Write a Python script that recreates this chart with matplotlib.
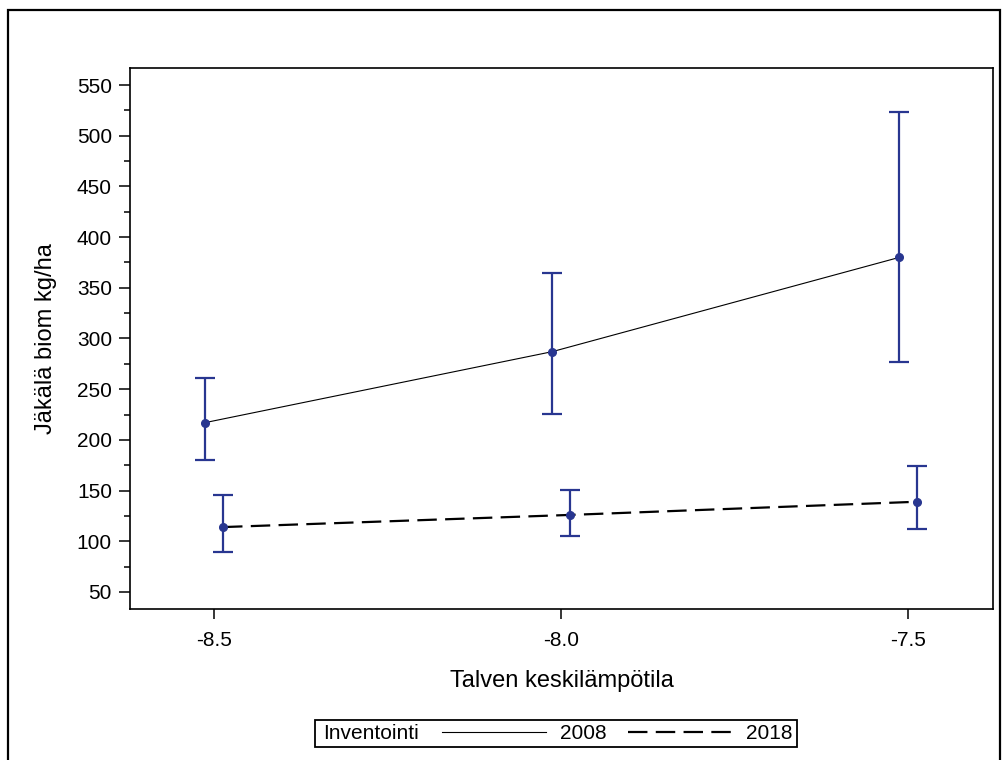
import matplotlib
matplotlib.use("Agg")
import matplotlib.pyplot as plt
from matplotlib.lines import Line2D
from matplotlib.patches import Rectangle
from matplotlib.ticker import MultipleLocator

plt.rcParams['font.family'] = ['Liberation Sans', 'DejaVu Sans']
plt.rcParams['lines.scale_dashes'] = False

# ---- data ----
temps = [-8.5, -8.0, -7.5]
years = ["2008", "2018"]
mean_2008 = [217, 287, 380]
upper_2008 = [261, 365, 523]
lower_2008 = [180, 226, 277]
mean_2018 = [114, 126, 139]
upper_2018 = [146, 151, 174]
lower_2018 = [89, 105, 112]
xticks = [-8.5, -8.0, -7.5]
xticklabels = ["-8.5", "-8.0", "-7.5"]
yticks = list(range(50, 551, 50))
legend_title = "Inventointi"

dodge = 0.013
ebar_color = '#283690'

W, H = 1004, 760
fig = plt.figure(figsize=(W/100, H/100), dpi=100)
ax = fig.add_axes([130/W, 1-609/H, (993-130)/W, (609-68)/H])

series = [
    (mean_2008, upper_2008, lower_2008, -dodge, dict(color='black', lw=0.8, linestyle='-')),
    (mean_2018, upper_2018, lower_2018, +dodge, dict(color='black', lw=1.6, dashes=(14, 6))),
]
handles = []
for (m, up, lo, off, style), yr in zip(series, years):
    xs = [t + off for t in temps]
    ax.plot(xs, m, zorder=2, **style)
    yerr = [[mm - l for mm, l in zip(m, lo)], [u - mm for mm, u in zip(m, up)]]
    ax.errorbar(xs, m, yerr=yerr, fmt='o', color=ebar_color, ms=5.5,
                elinewidth=1.6, capsize=7.5, capthick=1.6, zorder=3)
    handles.append(Line2D([], [], label=yr, **style))

ax.set_xlim(-8.621, -7.378)
ax.set_ylim(33.2, 566.8)
ax.set_xticks(xticks)
ax.set_xticklabels(xticklabels)
ax.set_yticks(yticks)
ax.yaxis.set_minor_locator(MultipleLocator(25))
ax.tick_params(axis='both', which='major', labelsize=15, width=1.1, length=8, pad=5, direction='out')
ax.tick_params(axis='x', which='major', length=7, pad=9)
ax.tick_params(axis='y', which='minor', width=1.1, length=4.3)
for sp in ax.spines.values():
    sp.set_linewidth(1.2)

ax.set_xlabel("Talven keskilämpötila", fontsize=17, labelpad=14)
ax.set_ylabel("Jäkälä biom kg/ha", fontsize=17, labelpad=14)

# legend: entries (no frame) + title to the left + frame around everything
leg = fig.legend(handles=handles, loc='center right',
                 bbox_to_anchor=(793/W, 1-733.5/H),
                 ncol=2, fontsize=15, frameon=False,
                 handlelength=5.0, columnspacing=1.0, handletextpad=0.7,
                 borderpad=0.0, borderaxespad=0.0)
fig.text(323/W, 1-733.5/H, legend_title, fontsize=15, ha='left', va='center')
fig.patches.append(Rectangle((315/W, 1-747/H), (797-315)/W, 27/H,
                             transform=fig.transFigure, fill=False,
                             edgecolor='black', linewidth=1.3))

# outer frame
fig.patches.append(Rectangle((8/W, -0.02), (1000-8)/W, 1-10/H+0.02,
                             transform=fig.transFigure, fill=False,
                             edgecolor='black', linewidth=1.6))

fig.savefig("out.png", dpi=100)
